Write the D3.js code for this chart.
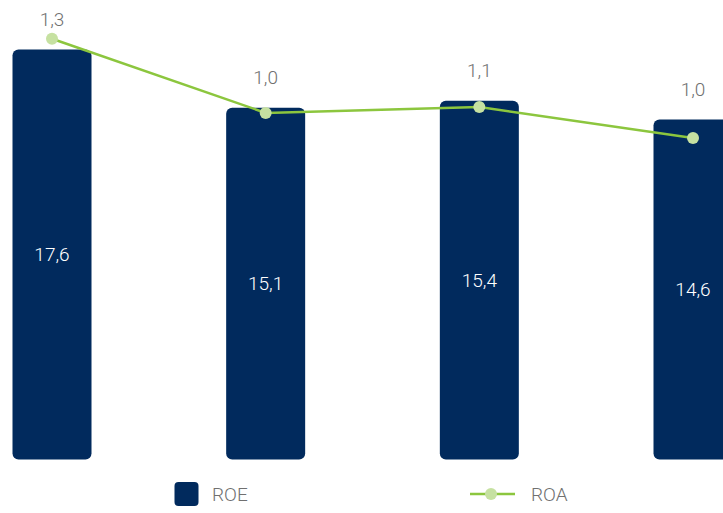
<!DOCTYPE html>
<html>
<head>
<meta charset="utf-8">
<script src="https://cdn.jsdelivr.net/npm/d3@7"></script>
<style>
  body { margin: 0; background: #fff; }
  text { font-family: Roboto, "Liberation Sans", sans-serif; font-weight: 300; }
</style>
</head>
<body>
<div id="chart"></div>
<script>
const periods = ["P1", "P2", "P3", "P4"];
const roe = [17.6, 15.1, 15.4, 14.6];
const roa = [1.31, 1.045, 1.066, 0.955];
const roaLabels = ["1,3", "1,0", "1,1", "1,0"];
const roeLabels = ["17,6", "15,1", "15,4", "14,6"];

const width = 723, height = 513;
const navy = "#012a5d", green = "#8cc63e", dotFill = "#c6e1a1", grey = "#707070";

let svg = d3.select("#chart").append("svg")
  .attr("width", width)
  .attr("height", height);

let x = d3.scalePoint()
  .domain(periods)
  .range([52, 693]);
let barW = 79;

let y = d3.scaleLinear()
  .domain([0, 17.6])
  .range([459.5, 49.5]);

// ROA has its own scale
let y2 = d3.scaleLinear()
  .domain([0.9, 1.4])
  .range([153.5, 13.5]);

// bars
svg.selectAll(".bar")
  .data(periods)
  .enter().append("rect")
  .attr("class", "bar")
  .attr("x", (d) => x(d) - barW / 2)
  .attr("width", barW)
  .attr("y", (d, i) => y(roe[i]))
  .attr("height", (d, i) => y(0) - y(roe[i]))
  .attr("rx", 6)
  .attr("fill", navy);

// bar value labels
svg.selectAll(".roe-label")
  .data(periods)
  .enter().append("text")
  .attr("x", (d) => x(d))
  .attr("y", (d, i) => (y(roe[i]) + y(0)) / 2)
  .attr("dy", "0.35em")
  .attr("text-anchor", "middle")
  .attr("fill", "#fff")
  .style("font-size", "19px")
  .text((d, i) => roeLabels[i]);

// ROA line
let line = d3.line()
  .x((d) => x(d))
  .y((d, i) => y2(roa[i]));

svg.append("path")
  .datum(periods)
  .attr("d", line)
  .attr("fill", "none")
  .attr("stroke", green)
  .attr("stroke-width", 2.5);

svg.selectAll(".dot")
  .data(periods)
  .enter().append("circle")
  .attr("cx", (d) => x(d))
  .attr("cy", (d, i) => y2(roa[i]))
  .attr("r", 6)
  .attr("fill", dotFill);

// ROA labels above bars
svg.selectAll(".roa-label")
  .data(periods)
  .enter().append("text")
  .attr("x", (d) => x(d))
  .attr("y", (d, i) => y(roe[i]) - 30)
  .attr("dy", "0.35em")
  .attr("text-anchor", "middle")
  .attr("fill", grey)
  .style("font-size", "19px")
  .text((d, i) => roaLabels[i]);

// legend
let legend = svg.append("g");
legend.append("rect")
  .attr("x", 174.5).attr("y", 482)
  .attr("width", 24).attr("height", 24)
  .attr("rx", 4)
  .attr("fill", navy);
legend.append("text")
  .attr("x", 212).attr("y", 494)
  .attr("dy", "0.35em")
  .attr("fill", grey)
  .style("font-size", "19px")
  .text("ROE");

legend.append("line")
  .attr("x1", 470).attr("x2", 515)
  .attr("y1", 494).attr("y2", 494)
  .attr("stroke", green)
  .attr("stroke-width", 2.5);
legend.append("circle")
  .attr("cx", 491).attr("cy", 494)
  .attr("r", 6)
  .attr("fill", dotFill);
legend.append("text")
  .attr("x", 531).attr("y", 494)
  .attr("dy", "0.35em")
  .attr("fill", grey)
  .style("font-size", "19px")
  .text("ROA");
</script>
</body>
</html>
